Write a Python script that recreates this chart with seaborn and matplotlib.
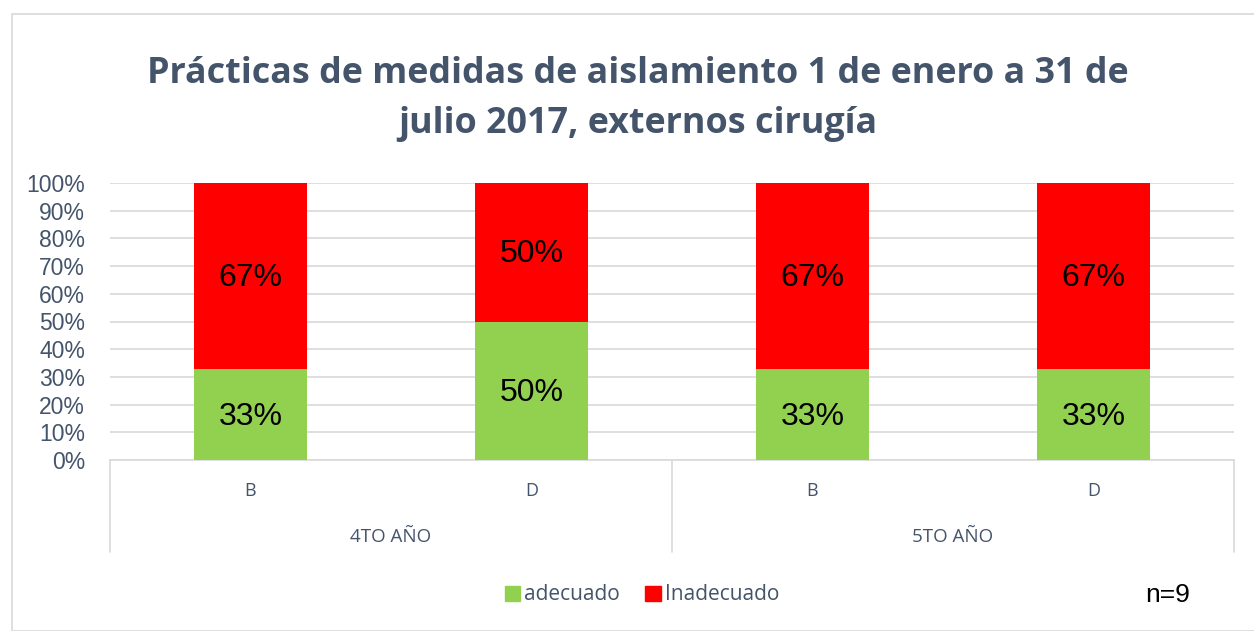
import matplotlib
matplotlib.use("Agg")
import matplotlib.pyplot as plt
import seaborn as sns
import pandas as pd
from matplotlib.patches import Rectangle

groups = ["4TO AÑO", "4TO AÑO", "5TO AÑO", "5TO AÑO"]
sections = ["B", "D", "B", "D"]
adecuado = [33, 50, 33, 33]
inadecuado = [67, 50, 67, 67]
title = "Prácticas de medidas de aislamiento 1 de enero a 31 de\njulio 2017, externos cirugía"

GREEN = "#92D050"
RED = "#FF0000"
TXT = "#44546A"

sns.set_theme(style="white")
plt.rcParams["font.family"] = ["Liberation Sans", "DejaVu Sans"]

df = pd.DataFrame({
    "key": [f"{g}|{s}" for g, s in zip(groups, sections)],
    "adecuado": adecuado,
    "inadecuado": inadecuado,
})
df["total"] = df["adecuado"] + df["inadecuado"]

fig = plt.figure(figsize=(12.54, 6.31), dpi=100)
ax = fig.add_axes([110/1254, 1-460/631, 1124/1254, 277/631])

sns.barplot(data=df, x="key", y="total", color=RED, width=0.4, saturation=1,
            ax=ax, linewidth=0, zorder=2)
sns.barplot(data=df, x="key", y="adecuado", color=GREEN, width=0.4, saturation=1,
            ax=ax, linewidth=0, zorder=3)

for i, (a, b) in enumerate(zip(adecuado, inadecuado)):
    ax.text(i, a/2 - 0.8, f"{a}%", ha="center", va="center", fontsize=23, color="black", zorder=5)
    ax.text(i, a + b/2 - 0.8, f"{b}%", ha="center", va="center", fontsize=23, color="black", zorder=5)

ax.set_xlim(-0.5, len(sections) - 0.5)
ax.set_ylim(0, 100)
ax.set_yticks(range(0, 101, 10))
ax.set_yticklabels([f"{v}%" for v in range(0, 101, 10)], fontsize=16.5, color=TXT)
ax.tick_params(axis="y", length=0, pad=18)
ax.yaxis.grid(True, color="#D9D9D9", linewidth=1.2, zorder=0)
ax.set_axisbelow(True)
for s in ["top", "right", "left"]:
    ax.spines[s].set_visible(False)
ax.spines["bottom"].set_color("#D9D9D9")
ax.spines["bottom"].set_linewidth(1.2)
ax.set_xlabel("")
ax.set_ylabel("")

ax.set_xticks(range(len(sections)))
ax.set_xticklabels(sections, fontsize=13, color=TXT, fontfamily=["Open Sans", "DejaVu Sans"])
ax.tick_params(axis="x", length=0, pad=16)

trans = ax.get_xaxis_transform()
# group separators
for xv in [-0.5, 1.5, 3.5]:
    ax.plot([xv, xv], [0, -92/277], color="#D9D9D9", lw=1.2, transform=trans, clip_on=False)
# group labels
uniq = []
for g in groups:
    if g not in uniq:
        uniq.append(g)
for g in uniq:
    idx = [i for i, gg in enumerate(groups) if gg == g]
    ax.text(sum(idx)/len(idx), -(537-460)/277, g, transform=trans, ha="center", va="center",
            fontsize=13.5, color=TXT, fontfamily=["Open Sans", "DejaVu Sans"])

fig.text(638/1254, 1-99/631, title, ha="center", va="center", fontsize=25.8,
         fontweight="bold", color=TXT, linespacing=1.5, fontfamily=["Open Sans", "DejaVu Sans"])

handles = [Rectangle((0, 0), 1, 1, color=GREEN), Rectangle((0, 0), 1, 1, color=RED)]
leg = fig.legend(handles, ["adecuado", "Inadecuado"], loc="center", bbox_to_anchor=(642/1254, 1-595/631),
                 ncol=2, frameon=False, handlelength=0.75, handleheight=0.75, handletextpad=0.2,
                 columnspacing=1.2, prop={"family": ["Open Sans", "DejaVu Sans"], "size": 15})
for t in leg.get_texts():
    t.set_color(TXT)

fig.text(1168/1254, 1-595/631, "n=9", ha="center", va="center", fontsize=19, color="black")

fig.patches.append(Rectangle((12/1254, 0), 1, 1-14/631, transform=fig.transFigure,
                             fill=False, edgecolor="#D9D9D9", lw=1.2))

fig.savefig("out.png", dpi=100)
